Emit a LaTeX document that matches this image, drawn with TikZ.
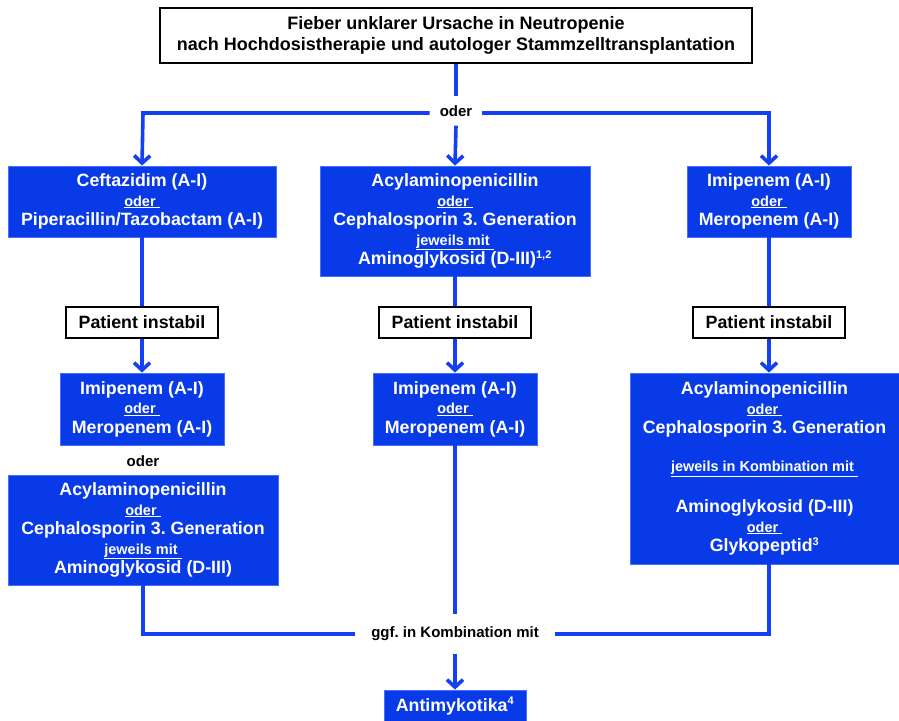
\documentclass[tikz,border=0pt]{standalone}
\usepackage{fontspec}
\setmainfont{Liberation Sans}
\usetikzlibrary{arrows.meta}
\frenchspacing
\definecolor{boxblue}{RGB}{8,58,232}
\definecolor{boxedge}{RGB}{70,110,255}
\definecolor{lineblue}{RGB}{18,64,242}
\newcommand\myul[1]{\underline{#1\ }}
\newcommand\smallf{\fontsize{14.5}{16}\selectfont}
\tikzset{
  bbox/.style={draw=boxedge, fill=boxblue, text=white, line width=0.8pt, inner sep=0pt, align=center,
    font=\bfseries\fontsize{17.8}{19.5}\selectfont},
  wbox/.style={draw=black, fill=white, line width=1.2pt, inner sep=0pt, align=center,
    font=\bfseries\fontsize{17.8}{19.5}\selectfont},
  lbl/.style={inner xsep=10pt, inner ysep=9pt, font=\bfseries\fontsize{15}{16}\selectfont},
  conn/.style={draw=lineblue, line width=3.6pt},
  arr/.style={conn, -{Straight Barb[length=7.5pt,width=16pt]}}
}
\begin{document}
\begin{tikzpicture}[x=1pt,y=-1pt]
\useasboundingbox (0,0) rectangle (899,720);
% top box
\node[wbox, minimum width=592pt, minimum height=55pt, font=\bfseries\fontsize{18}{20.5}\selectfont] (top) at (456,35.5)
  {\rule{0pt}{12pt}Fieber unklarer Ursache in Neutropenie\\nach Hochdosistherapie und autologer Stammzelltransplantation};
\node[lbl] (oderT) at (456,111) {oder};
\coordinate (cL) at (143,113);
\coordinate (cR) at (769,113);
\coordinate (rx) at (769,0);
% first row
\node[bbox, minimum width=268pt, minimum height=71pt] (L1) at (142,201.5)
  {Ceftazidim (A-I)\\{\smallf\myul{oder}}\\Piperacillin/Tazobactam (A-I)};
\node[bbox, minimum width=270pt, minimum height=110pt] (M1) at (455,221)
  {Acylaminopenicillin\\{\smallf\myul{oder}}\\Cephalosporin 3. Generation\\{\smallf\myul{jeweils mit}}\\Aminoglykosid (D-III)\textsuperscript{\fontsize{11}{12}\selectfont 1,2}};
\node[bbox, minimum width=164pt, minimum height=71pt] (R1) at (769,201.5)
  {Imipenem (A-I)\\{\smallf\myul{oder}}\\Meropenem (A-I)};
% patient instabil
\node[wbox, minimum width=152pt, minimum height=31pt] (PL) at (142,322.5) {Patient instabil};
\node[wbox, minimum width=152pt, minimum height=31pt] (PM) at (455,322.5) {Patient instabil};
\node[wbox, minimum width=152pt, minimum height=31pt] (PR) at (769,322.5) {Patient instabil};
% second row
\node[bbox, minimum width=164pt, minimum height=72pt] (L2) at (142,409)
  {Imipenem (A-I)\\{\smallf\myul{oder}}\\Meropenem (A-I)};
\node[lbl] (oderL) at (143,461) {oder};
\node[bbox, minimum width=270pt, minimum height=110pt] (L3) at (143,530)
  {Acylaminopenicillin\\{\smallf\myul{oder}}\\Cephalosporin 3. Generation\\{\smallf\myul{jeweils mit}}\\Aminoglykosid (D-III)};
\node[bbox, minimum width=164pt, minimum height=72pt] (M2) at (455,409)
  {Imipenem (A-I)\\{\smallf\myul{oder}}\\Meropenem (A-I)};
\node[bbox, minimum width=269pt, minimum height=191pt] (R2) at (764.5,468.5)
  {Acylaminopenicillin\\{\smallf\myul{oder}}\\Cephalosporin 3. Generation\\[18.5pt]{\smallf\myul{jeweils in Kombination mit}}\\[21.5pt]Aminoglykosid (D-III)\\{\smallf\myul{oder}}\\Glykopeptid\textsuperscript{\fontsize{11}{12}\selectfont 3}};
% bottom
\node[lbl, inner xsep=16pt, inner ysep=13pt] (ggf) at (455,634) {ggf. in Kombination mit};
\node[bbox, minimum width=142pt, minimum height=32pt] (anti) at (455,706) {Antimykotika\textsuperscript{\fontsize{11}{12}\selectfont 4}};
% connectors
\draw[conn] (top.south) -- (oderT.north);
\draw[arr] (oderT.south) -- (M1.north);
\draw[arr] (oderT.west |- cL) -- (cL) -- (L1.north);
\draw[arr] (oderT.east |- cR) -- (cR) -- (cR |- R1.north);
\draw[conn] (L1.south) -- (PL.north);
\draw[arr] (PL.south) -- (L2.north);
\draw[conn] (M1.south) -- (PM.north);
\draw[arr] (PM.south) -- (M2.north);
\draw[conn] (R1.south) -- (PR.north);
\draw[arr] (PR.south) -- (PR.south |- R2.north);
\draw[conn] (L3.south) |- (ggf.west);
\draw[conn] (R2.south -| rx) |- (ggf.east);
\draw[conn] (M2.south) -- (ggf.north);
\draw[arr] (ggf.south) -- (anti.north);
\end{tikzpicture}
\end{document}
